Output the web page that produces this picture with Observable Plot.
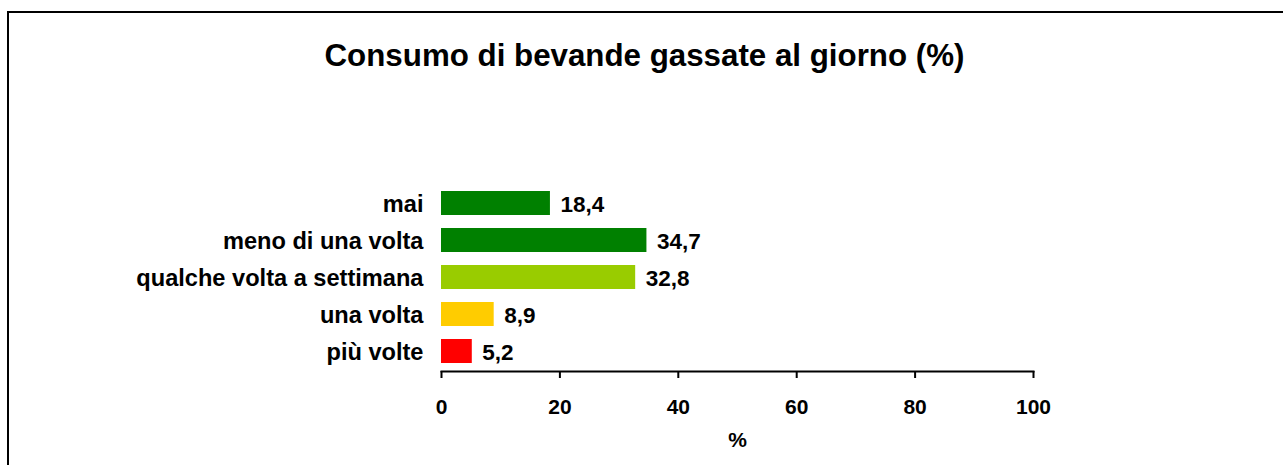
<!DOCTYPE html>
<html>
<head>
<meta charset="utf-8">
<script src="https://cdn.jsdelivr.net/npm/d3@7"></script>
<script src="https://cdn.jsdelivr.net/npm/@observablehq/plot@0.6"></script>
<style>
  html, body { margin: 0; padding: 0; background: #fff; }
  body { width: 1283px; height: 465px; overflow: hidden; position: relative; font-family: "Liberation Sans", Arial, sans-serif; }
  #frame { position: absolute; left: 7px; top: 11px; width: 1400px; height: 600px; border-left: 2px solid #000; border-top: 2px solid #000; pointer-events: none; }
  #title { height: 100px; box-sizing: border-box; padding-top: 38px; line-height: 36px; text-align: center; font-size: 31.3px; font-weight: bold; color: #000; padding-left: 6px; }
  #chart svg { display: block; }
</style>
</head>
<body>
<div id="frame"></div>
<div id="title">Consumo di bevande gassate al giorno (%)</div>
<div id="chart"></div>
<script>
const categories = ["mai", "meno di una volta", "qualche volta a settimana", "una volta", "più volte"];
const values = [18.4, 34.7, 32.8, 8.9, 5.2];
const colors = ["#008000", "#008000", "#99CC00", "#FFCC00", "#FF0000"];
const xTicks = [0, 20, 40, 60, 80, 100];
const xLabel = "%";

const data = categories.map((c, i) => ({category: c, value: values[i]}));
const fmt = v => v.toFixed(1).replace(".", ",");

const chart = Plot.plot({
  width: 1283,
  height: 365,
  marginLeft: 441,
  marginRight: 250,
  marginTop: 84,
  marginBottom: 94,
  style: {fontFamily: '"Liberation Sans", Arial, sans-serif', color: "#000", background: "#fff"},
  x: {domain: [0, 100], label: null},
  y: {domain: categories, range: [84.5, 269.5], paddingInner: 0.36, paddingOuter: 0.18, label: null},
  color: {domain: categories, range: colors},
  marks: [
    Plot.barX(data, {x: "value", y: "category", fill: "category"}),
    Plot.text(data, {x: "value", y: "category", text: d => fmt(d.value), textAnchor: "start", dx: 10, dy: 1, fontSize: 22.5, fontWeight: "bold", fill: "#000"}),
    Plot.frame({anchor: "bottom", stroke: "#000", strokeWidth: 2}),
    Plot.axisX({ticks: xTicks, tickSize: 7, tickPadding: 21, strokeWidth: 2, fontSize: 21, fontWeight: "bold", label: null, tickFormat: d => String(d)}),
    Plot.axisY({tickSize: 0, tickPadding: 18, dy: 1, fontSize: 23.6, fontWeight: "bold", label: null}),
    Plot.text([xLabel], {frameAnchor: "bottom", dy: 69, lineAnchor: "middle", fontSize: 21, fontWeight: "bold", fill: "#000"})
  ]
});
document.getElementById("chart").appendChild(chart);
</script>
</body>
</html>
